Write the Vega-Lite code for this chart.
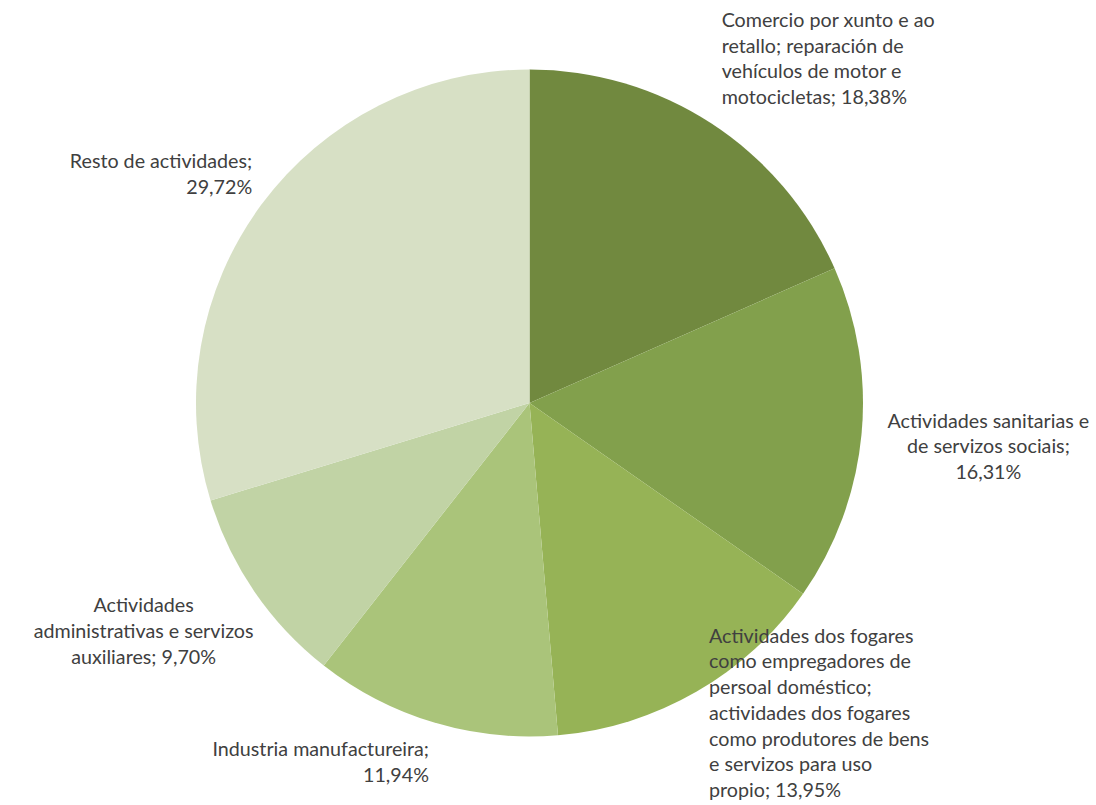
{
  "$schema": "https://vega.github.io/schema/vega-lite/v6.json",
  "width": 1059,
  "height": 806,
  "autosize": "none",
  "padding": {"left": 0, "top": 0, "right": 37, "bottom": 0},
  "background": "white",
  "config": {"view": {"stroke": null}},
  "data": {
    "values": [
      {"idx": 1, "category": "Comercio", "share": 18.38, "label": "Comercio por xunto e ao\nretallo; reparación de\nvehículos de motor e\nmotocicletas; 18,38%"},
      {"idx": 2, "category": "Sanitarias", "share": 16.31, "label": "Actividades sanitarias e\nde servizos sociais;\n16,31%"},
      {"idx": 3, "category": "Fogares", "share": 13.95, "label": "Actividades dos fogares\ncomo empregadores de\npersoal doméstico;\nactividades dos fogares\ncomo produtores de bens\ne servizos para uso\npropio; 13,95%"},
      {"idx": 4, "category": "Industria", "share": 11.94, "label": "Industria manufactureira;\n11,94%"},
      {"idx": 5, "category": "Administrativas", "share": 9.70, "label": "Actividades\nadministrativas e servizos\nauxiliares; 9,70%"},
      {"idx": 6, "category": "Resto", "share": 29.72, "label": "Resto de actividades;\n29,72%"}
    ]
  },
  "encoding": {
    "theta": {"field": "share", "type": "quantitative", "stack": true},
    "order": {"field": "idx", "type": "quantitative"}
  },
  "layer": [
    {
      "mark": {"type": "arc", "radius": 333.5, "stroke": null},
      "encoding": {
        "color": {
          "field": "category",
          "type": "nominal",
          "scale": {
            "domain": ["Comercio", "Sanitarias", "Fogares", "Industria", "Administrativas", "Resto"],
            "range": ["#71893F", "#82A04C", "#96B356", "#AAC47A", "#C1D3A5", "#D7E0C5"]
          },
          "legend": null
        }
      }
    },
    {
      "mark": {
        "type": "text",
        "font": "Lato",
        "fontSize": 19.7,
        "lineHeight": 25.7,
        "lineBreak": "\n",
        "color": "#404040",
        "radius": {"expr": "datum.category == 'Comercio' ? 352 : datum.category == 'Sanitarias' ? 461 : datum.category == 'Fogares' ? 359 : datum.category == 'Industria' ? 352 : datum.category == 'Administrativas' ? 468 : 345"},
        "align": {"expr": "datum.category == 'Comercio' || datum.category == 'Fogares' ? 'left' : (datum.category == 'Industria' || datum.category == 'Resto') ? 'right' : 'center'"},
        "baseline": {"expr": "datum.category == 'Comercio' || datum.category == 'Administrativas' || datum.category == 'Resto' ? 'bottom' : datum.category == 'Industria' ? 'top' : 'middle'"},
        "dy": {"expr": "-(length(split(datum.label, '\\n')) - 1) * 25.7 * (datum.category == 'Comercio' || datum.category == 'Administrativas' || datum.category == 'Resto' ? 1 : datum.category == 'Industria' ? 0 : 0.5)"}
      },
      "encoding": {
        "text": {"field": "label", "type": "nominal"}
      }
    }
  ]
}
